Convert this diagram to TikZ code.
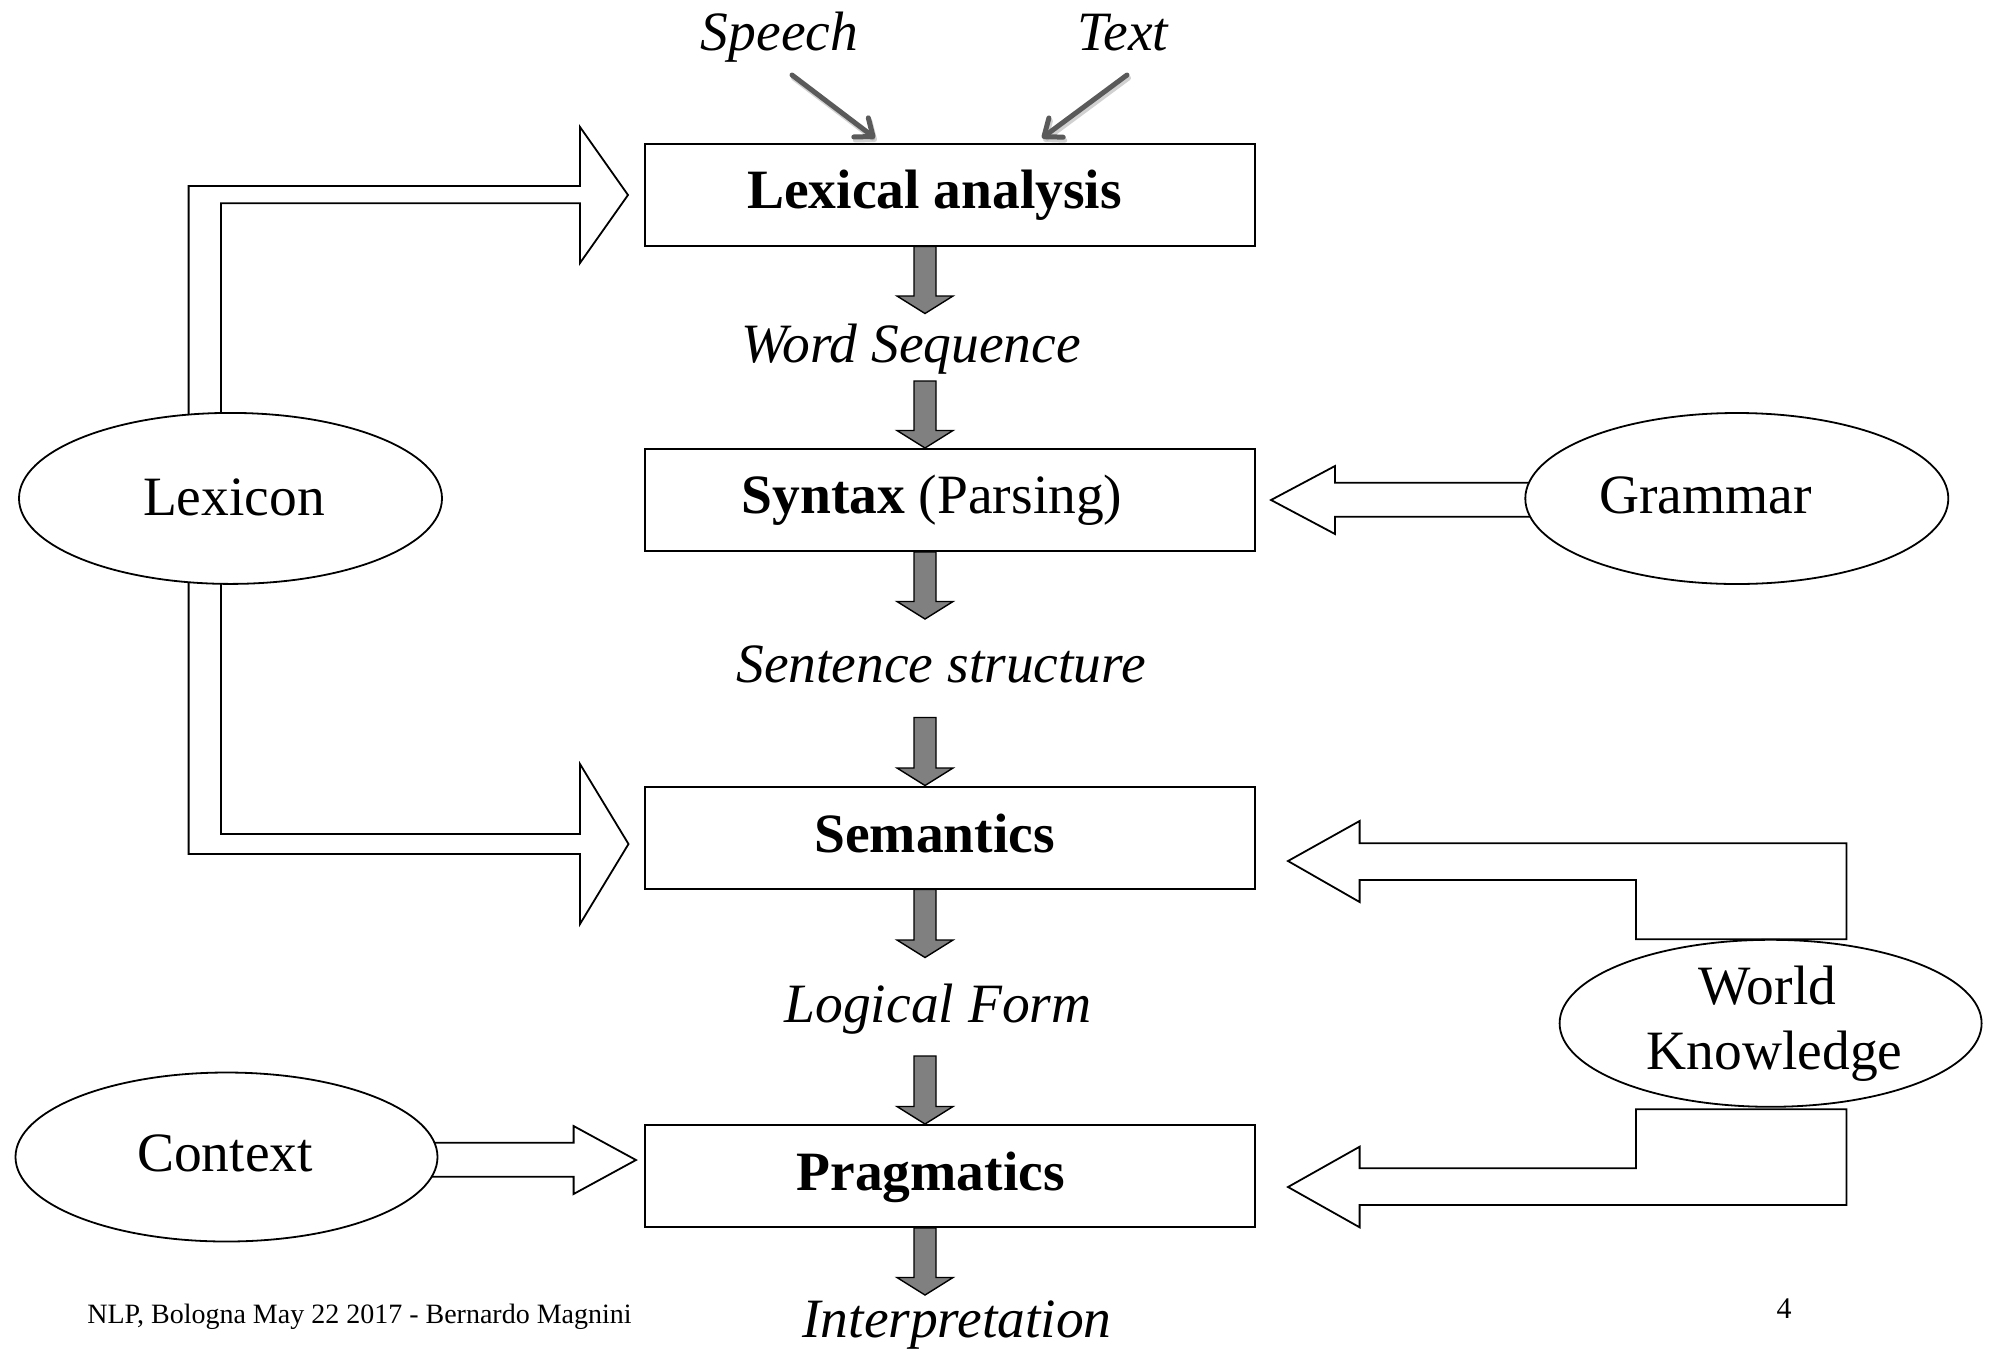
\documentclass[tikz,border=0pt]{standalone}
\usepackage{fontspec}
\setmainfont{Liberation Serif}
\usetikzlibrary{shapes.geometric, arrows.meta, calc}

\definecolor{flowgray}{HTML}{808080}
\definecolor{inputgray}{HTML}{5A5A5A}

\tikzset{
  stagebox/.style={draw=black, line width=2pt, fill=white, inner sep=0pt,
    minimum width=610pt, minimum height=102pt},
  source/.style={ellipse, draw=black, line width=1.8pt, fill=white, inner sep=0pt},
  label/.style={anchor=base, inner sep=0pt, font=\fontsize{55.5}{62}\selectfont},
  stagelabel/.style={label, font=\fontsize{55.5}{62}\selectfont\bfseries},
  datalabel/.style={label, font=\fontsize{55.5}{62}\selectfont\itshape},
  smalllabel/.style={anchor=base, inner sep=0pt, font=\fontsize{28}{32}\selectfont},
  flowarrow/.style={fill=flowgray, draw=black, line width=1.4pt, line join=miter},
  blockarrow/.style={draw=black, fill=white, line width=1.8pt, line join=miter},
  inputarrow/.style={draw=inputgray, line width=5pt, line cap=round,
    -{Straight Barb[length=15pt, width=24pt, round]}},
  inputshadow/.style={inputarrow, draw=black, opacity=0.18},
}

% grey downward arrow between two named coordinates
\newcommand\flowdown[2]{%
  \draw[flowarrow] ($(#1)+(-11,0)$) -- ($(#2)+(-11,-17.5)$) -- ($(#2)+(-28,-17.5)$)
    -- (#2) -- ($(#2)+(28,-17.5)$) -- ($(#2)+(11,-17.5)$) -- ($(#1)+(11,0)$) -- cycle;}

\begin{document}
\begin{tikzpicture}[x=1pt, y=-1pt]
  \useasboundingbox (0,0) rectangle (1991,1350);
  \fill[white] (0,0) rectangle (1991,1350);

  % processing stages
  \node[stagebox] (lex)  at (950,194.5) {};
  \node[stagebox] (syn)  at (950,500)   {};
  \node[stagebox] (sem)  at (950,837.5) {};
  \node[stagebox] (prag) at (950,1176)  {};

  \node[stagelabel] (lexT)  at (934.5,208) {Lexical analysis};
  \node[label]      (synT)  at (932,513)   {\textbf{Syntax} (Parsing)};
  \node[stagelabel] (semT)  at (934.5,852) {Semantics};
  \node[stagelabel] (pragT) at (930.7,1190) {Pragmatics};

  % intermediate representations
  \node[datalabel] (speech) at (779.5,50)  {Speech};
  \node[datalabel] (text)   at (1123,50)   {Text};
  \node[datalabel] (ws)     at (911,362)   {Word Sequence};
  \node[datalabel] (ss)     at (941,682)   {Sentence structure};
  \node[datalabel] (lf)     at (938,1022)  {Logical Form};
  \node[datalabel] (interp) at (957,1337)  {Interpretation};

  % input arrows into lexical analysis
  \coordinate (sp1) at (792,75);   \coordinate (sp2) at (875,138);
  \coordinate (tx1) at (1127,75);  \coordinate (tx2) at (1042,138);
  \draw[inputshadow] ($(sp1)+(1.5,3)$) -- ($(sp2)+(1.5,3)$);
  \draw[inputshadow] ($(tx1)+(1.5,3)$) -- ($(tx2)+(1.5,3)$);
  \draw[inputarrow] (sp1) -- (sp2);
  \draw[inputarrow] (tx1) -- (tx2);

  % grey flow arrows along the pipeline
  \coordinate (axis) at (925,0);
  \coordinate (f1s) at (lex.south -| axis);  \coordinate (f1e) at ($(f1s)+(0,67)$);
  \coordinate (f2e) at (syn.north -| axis);  \coordinate (f2s) at ($(f2e)+(0,-67)$);
  \coordinate (f3s) at (syn.south -| axis);  \coordinate (f3e) at ($(f3s)+(0,67)$);
  \coordinate (f4e) at (sem.north -| axis);  \coordinate (f4s) at ($(f4e)+(0,-68)$);
  \coordinate (f5s) at (sem.south -| axis);  \coordinate (f5e) at ($(f5s)+(0,68)$);
  \coordinate (f6e) at (prag.north -| axis); \coordinate (f6s) at ($(f6e)+(0,-68)$);
  \coordinate (f7s) at (prag.south -| axis); \coordinate (f7e) at ($(f7s)+(0,67)$);
  \flowdown{f1s}{f1e}
  \flowdown{f2s}{f2e}
  \flowdown{f3s}{f3e}
  \flowdown{f4s}{f4e}
  \flowdown{f5s}{f5e}
  \flowdown{f6s}{f6e}
  \flowdown{f7s}{f7e}

  % knowledge sources feeding the stages (hollow block arrows)
  % Lexicon -> Lexical analysis
  \draw[blockarrow] (188.6,440) -- (188.6,186) -- (580,186) -- (580,127) -- (628,195)
    -- (580,263) -- (580,203.3) -- (221,203.3) -- (221,440) -- cycle;
  % Lexicon -> Semantics
  \draw[blockarrow] (188.6,560) -- (188.6,854) -- (580,854) -- (580,924) -- (628.5,844)
    -- (580,764) -- (580,834) -- (221,834) -- (221,560) -- cycle;
  % Grammar -> Syntax
  \draw[blockarrow] (1545,482.7) -- (1335,482.7) -- (1335,466) -- (1271,500)
    -- (1335,534) -- (1335,516.7) -- (1545,516.7) -- cycle;
  % Context -> Pragmatics
  \draw[blockarrow] (420,1142.7) -- (573.6,1142.7) -- (573.6,1126) -- (636,1160)
    -- (573.6,1194) -- (573.6,1176.7) -- (420,1176.7) -- cycle;
  % World Knowledge -> Semantics
  \draw[blockarrow] (1359.6,843.3) -- (1846.4,843.3) -- (1846.4,939.3) -- (1636,939.3)
    -- (1636,880) -- (1359.6,880) -- (1359.6,902) -- (1288,861) -- (1359.6,821) -- cycle;
  % World Knowledge -> Pragmatics
  \draw[blockarrow] (1636,1109.3) -- (1846.4,1109.3) -- (1846.4,1205) -- (1359.6,1205)
    -- (1359.6,1227.3) -- (1288,1187) -- (1359.6,1146.7) -- (1359.6,1168.3)
    -- (1636,1168.3) -- cycle;

  % knowledge sources
  \node[source, minimum width=423pt, minimum height=171pt] (lexicon) at (230.5,498.4) {};
  \node[source, minimum width=423pt, minimum height=171pt] (grammar) at (1736.8,498.5) {};
  \node[source, minimum width=422pt, minimum height=167pt] (wk)      at (1770.6,1023.3) {};
  \node[source, minimum width=422pt, minimum height=169pt] (context) at (226.5,1157) {};

  \node[label] (lexiconT) at (234,515)     {Lexicon};
  \node[label] (grammarT) at (1705.5,513)  {Grammar};
  \node[label] (worldT)   at (1767.5,1004) {World};
  \node[label] (knowT)    at (1774.5,1069.5) {Knowledge};
  \node[label] (contextT) at (225,1171.7)  {Context};

  % footer
  \node[smalllabel] (footer) at (359.5,1323) {NLP, Bologna May 22 2017 - Bernardo Magnini};
  \node[smalllabel, font=\fontsize{30}{34}\selectfont] (pagenum) at (1784,1318) {4};
\end{tikzpicture}
\end{document}
